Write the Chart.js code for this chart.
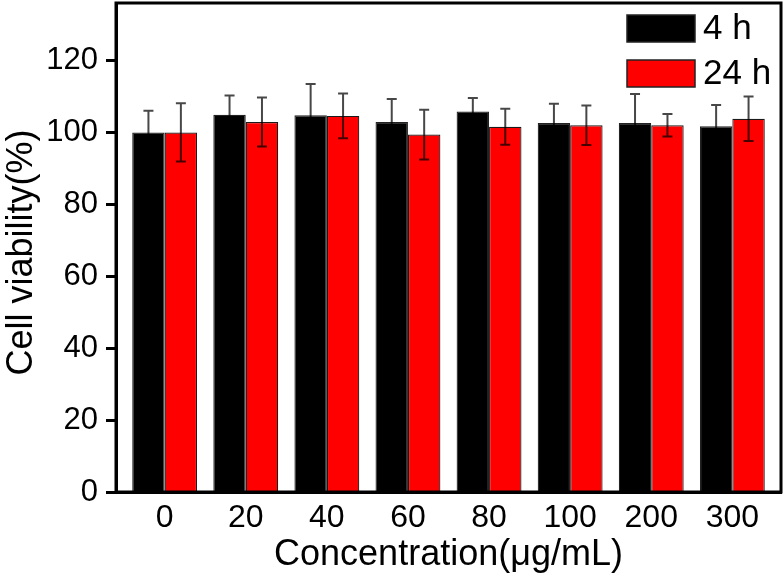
<!DOCTYPE html>
<html>
<head>
<meta charset="utf-8">
<script src="https://cdn.jsdelivr.net/npm/chart.js@4"></script>
<style>
  html, body { margin: 0; padding: 0; background: #fff; }
  #chart { display: block; }
</style>
</head>
<body>
<canvas id="chart" width="784" height="577"></canvas>
<script>
// data
const concentrations = ['0', '20', '40', '60', '80', '100', '200', '300'];
const viability4h  = [100.0, 104.9, 104.8, 102.9, 105.8, 102.6, 102.6, 101.7];
const error4h      = [6.0, 5.4, 8.7, 6.4, 3.8, 5.4, 8.1, 5.9];
const viability24h = [100.0, 102.9, 104.6, 99.4, 101.6, 102.0, 102.0, 103.8];
const error24h     = [8.1, 6.8, 6.2, 6.9, 5.0, 5.5, 3.1, 6.2];
const seriesLabels = ['4 h', '24 h'];

const FONT = '"Liberation Sans", Arial, sans-serif';

const toPoints = (vals) => vals.map((y, i) => ({ x: i, y }));

// error bars + frame on top of the bars
const errorBars = {
  id: 'errorBars',
  afterDatasetsDraw(chart) {
    const { ctx, chartArea: a, scales: { y } } = chart;
    ctx.save();
    ctx.strokeStyle = 'rgba(0,0,0,0.72)';
    ctx.lineWidth = 2;
    chart.data.datasets.forEach((ds, i) => {
      chart.getDatasetMeta(i).data.forEach((bar, j) => {
        const v = ds.data[j].y, e = ds.errors[j];
        const top = y.getPixelForValue(v + e);
        const bot = y.getPixelForValue(v - e);
        ctx.beginPath();
        ctx.moveTo(bar.x, top); ctx.lineTo(bar.x, bot);
        ctx.moveTo(bar.x - 5, top); ctx.lineTo(bar.x + 5, top);
        ctx.moveTo(bar.x - 5, bot); ctx.lineTo(bar.x + 5, bot);
        ctx.stroke();
      });
    });
    ctx.strokeStyle = '#000';
    ctx.lineWidth = 3;
    ctx.strokeRect(a.left, a.top, a.right - a.left, a.bottom - a.top);
    ctx.restore();
  }
};

// legend boxes in the top right corner
const boxLegend = {
  id: 'boxLegend',
  afterDraw(chart) {
    const { ctx, chartArea: a } = chart;
    ctx.save();
    ctx.font = '35px ' + FONT;
    ctx.textBaseline = 'middle';
    chart.data.datasets.forEach((ds, i) => {
      const x = a.right - 154, y = a.top + 12 + i * 45;
      ctx.fillStyle = ds.backgroundColor;
      ctx.fillRect(x, y, 68, 27);
      ctx.lineWidth = 1.5;
      ctx.strokeStyle = '#222';
      ctx.strokeRect(x, y, 68, 27);
      ctx.fillStyle = '#000';
      ctx.fillText(ds.label, x + 76, y + 14);
    });
    ctx.restore();
  }
};

new Chart(document.getElementById('chart'), {
  type: 'bar',
  data: {
    datasets: [
      { label: seriesLabels[0], data: toPoints(viability4h), errors: error4h,
        backgroundColor: '#000000', borderColor: '#222', borderWidth: 1.2 },
      { label: seriesLabels[1], data: toPoints(viability24h), errors: error24h,
        backgroundColor: '#ff0000', borderColor: '#1a1a1a', borderWidth: 1.2 }
    ]
  },
  options: {
    responsive: false,
    animation: false,
    layout: { padding: { top: 3, right: 3, left: 0, bottom: 0 } },
    datasets: { bar: { categoryPercentage: 0.8, barPercentage: 1.0 } },
    plugins: { legend: { display: false }, tooltip: { enabled: false } },
    scales: {
      x: {
        type: 'linear',
        offset: false,
        min: -0.6,
        max: 7.6,
        afterFit: (s) => { s.height = 85; s.paddingLeft = 0; s.paddingRight = 0; },
        grid: { drawOnChartArea: false, drawTicks: false },
        border: { display: true, width: 3, color: '#000' },
        ticks: {
          stepSize: 1,
          includeBounds: false,
          autoSkip: false,
          maxRotation: 0,
          padding: 7,
          color: '#000',
          font: { family: FONT, size: 32 },
          callback: (v) => concentrations[v]
        },
        title: {
          display: true,
          text: 'Concentration(μg/mL)',
          color: '#000',
          font: { family: FONT, size: 36 },
          padding: { top: 0, bottom: 0 }
        }
      },
      y: {
        min: 0,
        max: 136,
        afterFit: (s) => { s.width = 116; s.paddingTop = 0; s.paddingBottom = 0; },
        grid: { drawOnChartArea: false, drawTicks: true, tickLength: 10, tickWidth: 3, tickColor: '#000' },
        border: { display: true, width: 3, color: '#000' },
        ticks: {
          stepSize: 20,
          includeBounds: false,
          padding: 8,
          color: '#000',
          font: { family: FONT, size: 31 }
        },
        title: {
          display: true,
          text: 'Cell viability(%) ',
          color: '#000',
          font: { family: FONT, size: 36 },
          padding: 0
        }
      }
    }
  },
  plugins: [errorBars, boxLegend]
});
</script>
</body>
</html>
